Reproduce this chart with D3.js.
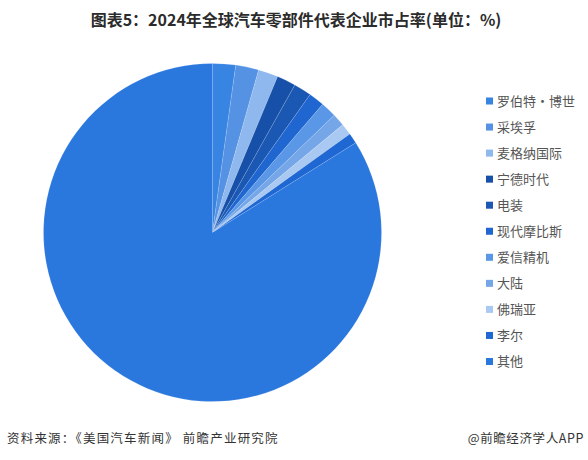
<!DOCTYPE html>
<html>
<head>
<meta charset="utf-8">
<script src="https://d3js.org/d3.v7.min.js"></script>
<style>
  body { margin: 0; background: #fff; }
  text { font-family: "Noto Sans CJK SC", "Noto Sans", sans-serif; }
</style>
</head>
<body>
<script>
// 企业名称与市占率(%)
var companies = ["罗伯特·博世", "采埃孚", "麦格纳国际", "宁德时代", "电装", "现代摩比斯", "爱信精机", "大陆", "佛瑞亚", "李尔", "其他"];
var shares = [2.2, 2.2, 1.9, 1.8, 1.7, 1.5, 1.5, 1.2, 1.1, 1.0, 83.9];
var colors = ["#3884e2", "#5592e3", "#8fb8ef", "#1650a8", "#1b58b4", "#1f66d0", "#5a97e6", "#74a6e8", "#a9c9f2", "#1f68d4", "#2a77dd"];

var titleText = "图表5：2024年全球汽车零部件代表企业市占率(单位：%)";
var sourceText = "资料来源：《美国汽车新闻》 前瞻产业研究院";
var brandText = "@前瞻经济学人APP";

var width = 588, height = 460;
var cx = 212.5, cy = 232.5, radius = 169;

var svg = d3.select("body").append("svg")
    .attr("width", width)
    .attr("height", height);

// 标题
svg.append("text")
    .attr("x", 296)
    .attr("y", 26)
    .attr("text-anchor", "middle")
    .style("font-size", "16px")
    .style("font-weight", "bold")
    .style("fill", "#2b2b2b")
    .text(titleText);

var data = companies.map(function (c, i) { return { name: c, value: shares[i], color: colors[i] }; });

var pie = d3.pie()
    .sort(null)
    .value(function (d) { return d.value; });

var arc = d3.arc()
    .innerRadius(0)
    .outerRadius(radius);

var g = svg.append("g")
    .attr("transform", "translate(" + cx + "," + cy + ")");

g.selectAll("path")
    .data(pie(data))
    .join("path")
    .attr("d", arc)
    .style("fill", function (d) { return d.data.color; })
    .style("stroke", "#ffffff")
    .style("stroke-width", 0.25)
    .style("stroke-opacity", 0.5);

// 图例
var legendY = d3.scalePoint()
    .domain(companies)
    .range([101, 361.5]);

var legend = svg.append("g");

var item = legend.selectAll("g")
    .data(data)
    .join("g")
    .attr("transform", function (d) { return "translate(486," + legendY(d.name) + ")"; });

item.append("rect")
    .attr("x", 0)
    .attr("y", -3.5)
    .attr("width", 7)
    .attr("height", 7)
    .style("fill", function (d) { return d.color; });

item.append("text")
    .attr("x", 11)
    .attr("y", 0)
    .attr("dy", "0.36em")
    .style("font-size", "13px")
    .style("fill", "#555555")
    .text(function (d) { return d.name; });

// 资料来源
svg.append("text")
    .attr("x", 7)
    .attr("y", 443)
    .style("font-size", "12.5px")
    .style("letter-spacing", "1.2px")
    .style("fill", "#333333")
    .text(sourceText);

svg.append("text")
    .attr("x", 584)
    .attr("y", 443)
    .attr("text-anchor", "end")
    .style("font-size", "12.5px")
    .style("letter-spacing", "0.6px")
    .style("fill", "#333333")
    .text(brandText);
</script>
</body>
</html>
